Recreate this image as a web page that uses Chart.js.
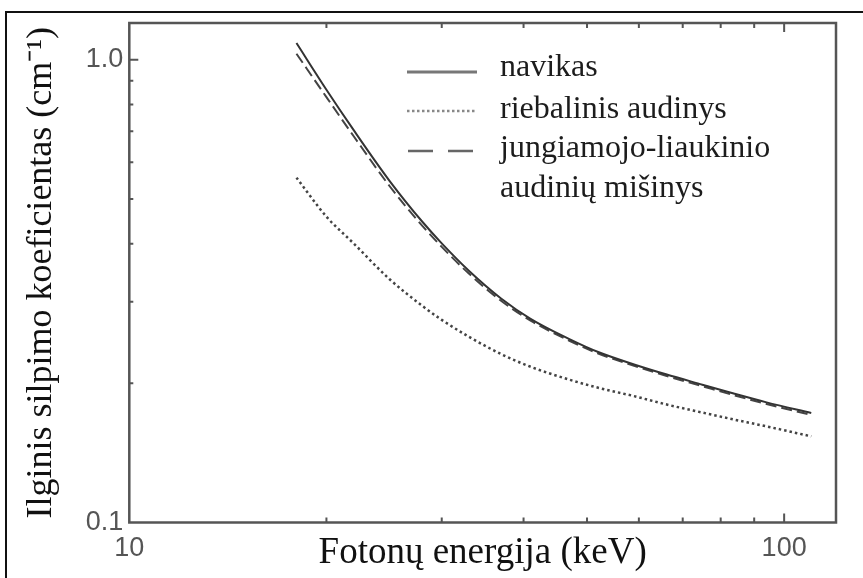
<!DOCTYPE html>
<html>
<head>
<meta charset="utf-8">
<script src="https://cdn.jsdelivr.net/npm/chart.js@4.4.1/dist/chart.umd.min.js"></script>
<style>
  html, body { margin: 0; padding: 0; background: #fff; }
  #wrap { position: relative; width: 863px; height: 578px; overflow: hidden; background: #fff; }
  #frame { position: absolute; left: 5px; top: 11px; width: 870px; height: 600px;
           border-left: 2px solid #111; border-top: 2px solid #111; box-sizing: border-box; }
  #chart { position: absolute; left: 0; top: 0; }
  .legend { position: absolute; left: 0; top: 0; width: 863px; height: 578px; pointer-events: none;
            font-family: "Liberation Serif", "Times New Roman", serif; font-size: 32px; color: #1c1c1c; }
  .legend .txt { position: absolute; left: 500px; line-height: 40px; white-space: nowrap; }
  .legend svg { position: absolute; left: 0; top: 0; }
</style>
</head>
<body>
<div id="wrap">
  <div id="frame"></div>
  <canvas id="chart" width="863" height="578"></canvas>
  <div class="legend">
    <svg width="863" height="578">
      <line x1="407" y1="72" x2="477" y2="72" stroke="#777" stroke-width="3"/>
      <line x1="407" y1="111" x2="477" y2="111" stroke="#888" stroke-width="2.5" stroke-dasharray="2.5 2.5"/>
      <line x1="408" y1="151" x2="477" y2="151" stroke="#666" stroke-width="2.5" stroke-dasharray="25 15"/>
    </svg>
    <div class="txt" style="top:45px">navikas</div>
    <div class="txt" style="top:87px">riebalinis audinys</div>
    <div class="txt" style="top:126px">jungiamojo-liaukinio</div>
    <div class="txt" style="top:166px">audinių mišinys</div>
  </div>
</div>
<script>
// Photon energy (keV)
const energies   = [18, 20, 22, 25, 28, 30, 33, 37, 41, 47, 52, 59, 66, 75, 84, 94, 110];
// Linear attenuation coefficient (cm^-1)
const navikas    = [1.086, 0.861, 0.705, 0.546, 0.447, 0.401, 0.350, 0.3045, 0.2755, 0.249, 0.2335, 0.2195, 0.209, 0.1985, 0.1897, 0.1818, 0.1725];
const riebalinis = [0.556, 0.458, 0.401, 0.335, 0.294, 0.274, 0.252, 0.231, 0.217, 0.2035, 0.1955, 0.1875, 0.180, 0.1728, 0.1668, 0.1613, 0.1535];
const jungiamojo = [1.030, 0.830, 0.684, 0.532, 0.438, 0.394, 0.345, 0.301, 0.273, 0.247, 0.2318, 0.218, 0.2075, 0.197, 0.1882, 0.1803, 0.1708];
// Labelled ticks
const xTickLabels = [10, 100];
const yTickLabels = ['0.1', '1.0'];

const pts = vals => energies.map((e, i) => ({ x: e, y: vals[i] }));
const isPow10 = v => Math.abs(Math.log10(v) - Math.round(Math.log10(v))) < 1e-9;

// Plot frame plus inward tick marks, placed through the chart's scales
const frameTicks = {
  id: 'frameTicks',
  afterDatasetsDraw(chart) {
    const { ctx, chartArea: a, scales: { x, y } } = chart;
    ctx.save();
    ctx.strokeStyle = '#555';
    ctx.lineWidth = 2;
    ctx.beginPath();
    x.ticks.forEach(t => {
      const px = x.getPixelForValue(t.value);
      if (px <= a.left + 2 || px >= a.right - 2) return;
      const len = isPow10(t.value) ? 9 : 5;
      ctx.moveTo(px, a.bottom); ctx.lineTo(px, a.bottom - len);
      ctx.moveTo(px, a.top); ctx.lineTo(px, a.top + len);
    });
    y.ticks.forEach(t => {
      const py = y.getPixelForValue(t.value);
      if (py <= a.top + 2 || py >= a.bottom - 2) return;
      const len = isPow10(t.value) ? 9 : 4;
      ctx.moveTo(a.left, py); ctx.lineTo(a.left + len, py);
    });
    ctx.stroke();
    ctx.lineWidth = 2.5;
    ctx.strokeRect(a.left, a.top, a.right - a.left, a.bottom - a.top);
    ctx.restore();
  }
};

const tickFont = { family: '"Liberation Sans Narrow", "Liberation Sans", Arial, sans-serif', size: 27 };
const yTitleFont = { family: '"Liberation Serif", "Times New Roman", serif', size: 36 };
const xTitleFont = { family: '"Liberation Serif", "Times New Roman", serif', size: 37 };

new Chart(document.getElementById('chart'), {
  type: 'line',
  data: {
    datasets: [
      { label: 'navikas', data: pts(navikas), borderColor: '#333', borderWidth: 2,
        pointRadius: 0, cubicInterpolationMode: 'monotone' },
      { label: 'riebalinis audinys', data: pts(riebalinis), borderColor: '#444', borderWidth: 2.5,
        borderDash: [2.5, 3], pointRadius: 0, cubicInterpolationMode: 'monotone' },
      { label: 'jungiamojo-liaukinio audinių mišinys', data: pts(jungiamojo), borderColor: '#444', borderWidth: 2,
        borderDash: [11, 5], pointRadius: 0, cubicInterpolationMode: 'monotone' }
    ]
  },
  options: {
    responsive: false,
    animation: false,
    devicePixelRatio: 1,
    layout: { padding: { top: 23, right: 27, left: 0, bottom: 0 } },
    plugins: { legend: { display: false }, tooltip: { enabled: false } },
    scales: {
      x: {
        type: 'logarithmic', min: 10, max: 120,
        grid: { display: false, drawTicks: false },
        border: { display: false },
        ticks: {
          autoSkip: false, maxRotation: 0, padding: 10, color: '#555', font: tickFont,
          callback: v => xTickLabels.some(l => Math.abs(l - v) < 1e-6) ? String(Math.round(v)) : ''
        },
        title: { display: true, text: 'Fotonų energija (keV)', color: '#111', font: xTitleFont,
                 padding: { top: 0, bottom: 3 } },
        afterFit: s => { s.height = 55.5; }
      },
      y: {
        type: 'logarithmic', min: 0.1, max: 1.2,
        grid: { display: false, drawTicks: false },
        border: { display: false },
        ticks: {
          autoSkip: false, padding: 6, color: '#555', font: tickFont,
          callback: v => {
            const s = Number(v).toFixed(1);
            return yTickLabels.includes(s) && isPow10(v) ? s : '';
          }
        },
        title: { display: true, text: 'Ilginis silpimo koeficientas (cm⁻¹)', color: '#111', font: yTitleFont,
                 padding: { top: 20, bottom: 0 } },
        afterFit: s => { s.width = 129.3; }
      }
    }
  },
  plugins: [frameTicks]
});
</script>
</body>
</html>
